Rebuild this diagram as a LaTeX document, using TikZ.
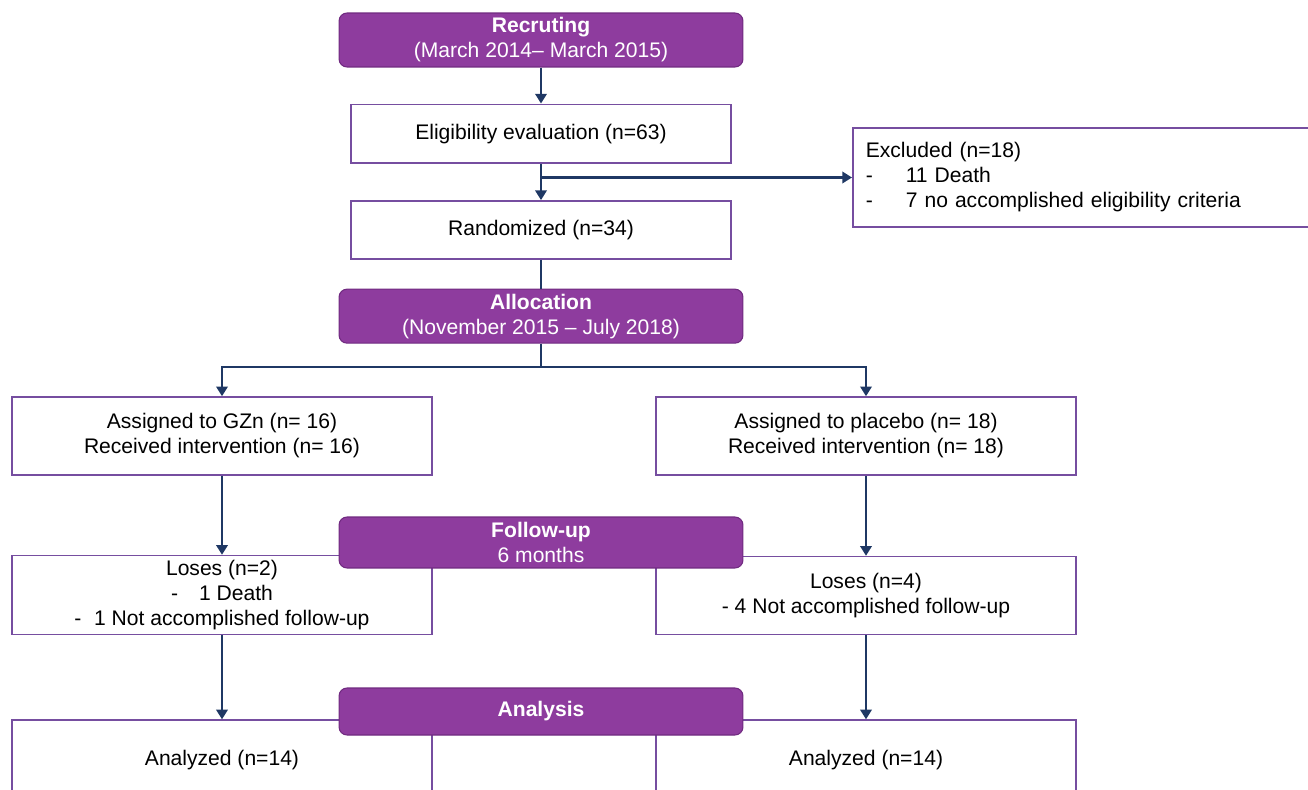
\documentclass[tikz,border=0pt]{standalone}
\usepackage{fontspec}
\setmainfont{Liberation Sans}
\usetikzlibrary{positioning,arrows.meta}
\definecolor{phasefill}{RGB}{142,60,158}
\definecolor{phaseline}{RGB}{112,42,128}
\definecolor{boxline}{RGB}{118,78,160}
\definecolor{flowline}{RGB}{31,56,100}

\begin{document}
\begin{tikzpicture}[
    x=0.02cm, y=-0.02cm,
    box/.style={
        rectangle, draw=boxline, line width=0.9pt, fill=white,
        minimum width=8.4cm, minimum height=1.56cm, inner sep=0pt,
        align=center, font=\fontsize{12}{14.2}\selectfont
    },
    phase/.style={
        rectangle, rounded corners=0.16cm,
        draw=phaseline, line width=0.6pt, fill=phasefill, text=white,
        minimum width=8.08cm, minimum height=1.08cm, inner sep=0pt,
        align=center, font=\fontsize{12}{14.2}\selectfont
    },
    arrow/.style={-{Triangle[width=6.5pt,length=5.5pt]}, line width=1.2pt, draw=flowline},
    link/.style={line width=1.2pt, draw=flowline},
    node distance=0.72cm
]

\useasboundingbox (0,0) rectangle (1308,790);
\clip (0,0) rectangle (1308,790);

% --- Enrollment ---
\node[phase] (recruit) at (541,40) {\textbf{Recruting}\\(March 2014-- March 2015)};
\node[box, minimum width=7.6cm, minimum height=1.18cm, below=of recruit] (elig) {Eligibility evaluation (n=63)};
\node[box, minimum width=7.6cm, minimum height=1.16cm, below=of elig] (rand) {Randomized (n=34)};
\node[box, anchor=west, minimum width=9.6cm, minimum height=1.98cm,
      inner xsep=0.26cm, text width=9.08cm, align=left] (excl) at (852,177.5)
     {Excluded (n=18)\\
      \makebox[0.8cm][l]{-}11 Death\\
      \makebox[0.8cm][l]{-}7 no accomplished eligibility criteria};

% --- Allocation ---
\node[phase, below=0.58cm of rand] (alloc) {\textbf{Allocation}\\(November 2015 -- July 2018)};
\coordinate (split) at (541,367);
\node[box] (gzn) at (222,436) {Assigned to GZn (n= 16)\\Received intervention (n= 16)};
\node[box] (plac) at (866,436) {Assigned to placebo (n= 18)\\Received intervention (n= 18)};

% --- Follow-up ---
\node[box, minimum height=1.58cm, below=1.58cm of gzn] (lose1)
     {Loses (n=2)\\-\hspace{1em}1 Death\\-\hspace{0.6em}1 Not accomplished follow-up};
\node[box, below=1.6cm of plac] (lose2) {Loses (n=4)\\- 4 Not accomplished follow-up};
\node[phase, minimum height=1.02cm] (follow) at (541,542.5) {\textbf{Follow-up}\\6 months};

% --- Analysis ---
\node[box, minimum height=1.6cm, below=1.68cm of lose1] (an1) {Analyzed (n=14)};
\node[box, minimum height=1.6cm, below=1.68cm of lose2] (an2) {Analyzed (n=14)};
\node[phase, minimum height=0.94cm] (analysis) at (541,711.5) {\textbf{Analysis}};

% --- Connectors ---
\draw[arrow] (recruit) -- (elig);
\draw[arrow] (elig) -- (rand);
\draw[arrow] (elig.south |- excl.west) -- (excl);
\draw[link] (rand) -- (alloc);
\draw[link] (alloc) -- (split);
\draw[arrow] (split) -| (gzn);
\draw[arrow] (split) -| (plac);
\draw[arrow] (gzn) -- (lose1);
\draw[arrow] (plac) -- (lose2);
\draw[arrow] (lose1) -- (an1);
\draw[arrow] (lose2) -- (an2);

\end{tikzpicture}
\end{document}
